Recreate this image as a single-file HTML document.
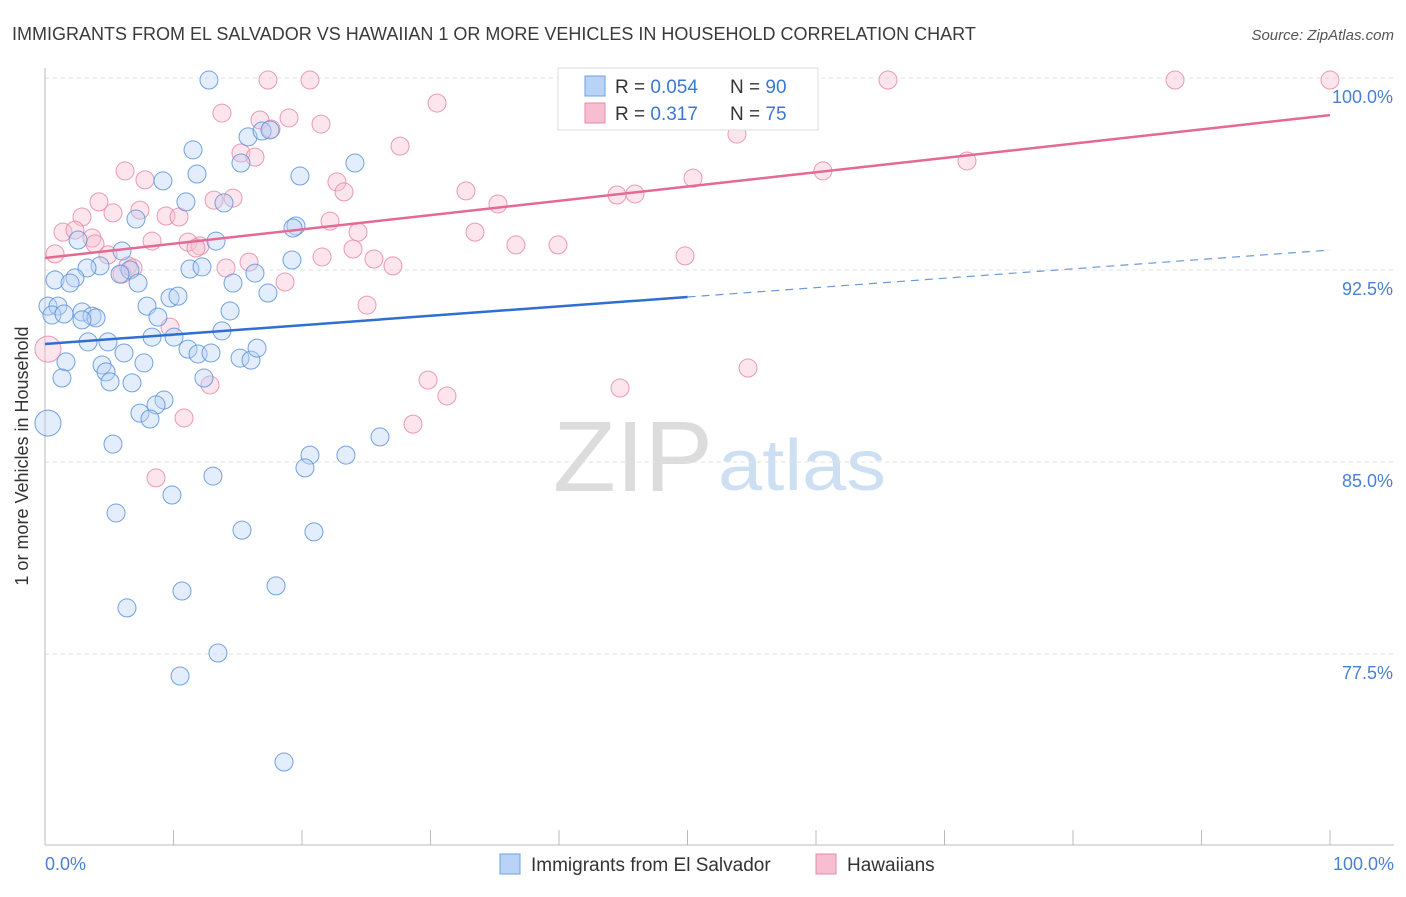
<!DOCTYPE html>
<html><head><meta charset="utf-8"><style>
body{margin:0;background:#fff;font-family:"Liberation Sans",sans-serif;}
svg text{font-family:"Liberation Sans",sans-serif;}
</style></head><body>
<svg width="1406" height="892" id="chart">
<text x="12" y="40" font-size="18" fill="#3a3a3a">IMMIGRANTS FROM EL SALVADOR VS HAWAIIAN 1 OR MORE VEHICLES IN HOUSEHOLD CORRELATION CHART</text>
<text x="1394" y="40" font-size="15" fill="#555" text-anchor="end" font-style="italic">Source: ZipAtlas.com</text>
<text x="553" y="491" font-size="100" fill="#dcdcdc" font-family="Liberation Serif" textLength="160" lengthAdjust="spacingAndGlyphs">ZIP</text>
<text x="718" y="490" font-size="72" fill="#cddff3" textLength="168" lengthAdjust="spacingAndGlyphs">atlas</text>
<g id="grid"></g>
<line x1="45" y1="68" x2="45" y2="845" stroke="#bbb"/>
<line x1="45" y1="845" x2="1394" y2="845" stroke="#bbb"/>
<text x="28" y="456" font-size="18" fill="#333" text-anchor="middle" transform="rotate(-90 28 456)">1 or more Vehicles in Household</text>
<text x="45" y="870" font-size="18" fill="#4a7fd4">0.0%</text>
<text x="1394" y="870" font-size="18" fill="#4a7fd4" text-anchor="end">100.0%</text>
<g id="marks"></g>
<g>
<rect x="558" y="68" width="260" height="62" fill="#fff" stroke="#ddd"/>
<rect x="585" y="76" width="20" height="20" fill="#b8d3f5" stroke="#6ea0e0"/>
<rect x="585" y="103" width="20" height="20" fill="#f7bdd0" stroke="#e88aa8"/>
<text x="615" y="93" font-size="19" fill="#333">R = <tspan fill="#3a78d8">0.054</tspan></text>
<text x="730" y="93" font-size="19" fill="#333">N = <tspan fill="#3a78d8">90</tspan></text>
<text x="615" y="120" font-size="19" fill="#333">R = <tspan fill="#3a78d8"> 0.317</tspan></text>
<text x="730" y="120" font-size="19" fill="#333">N = <tspan fill="#3a78d8">75</tspan></text>
</g>
<g>
<rect x="500" y="854" width="20" height="20" fill="#b8d3f5" stroke="#6ea0e0"/>
<text x="531" y="871" font-size="19" fill="#333">Immigrants from El Salvador</text>
<rect x="816" y="854" width="20" height="20" fill="#f7bdd0" stroke="#e88aa8"/>
<text x="847" y="871" font-size="19" fill="#333">Hawaiians</text>
</g>
</svg>
<script>
const yTicks=[100,92.5,85,77.5];
const yTickLabels=["100.0%","92.5%","85.0%","77.5%"];
const xTicks=[0,10,20,30,40,50,60,70,80,90,100];
const bluePx=[[209,80],[193,150],[197,174],[248,137],[262,131],[270,130],[241,163],[355,163],[163,181],[300,176],[186,202],[224,203],[136,219],[296,226],[293,228],[216,241],[78,240],[122,251],[100,266],[87,268],[190,269],[202,267],[255,273],[292,260],[130,270],[120,274],[75,278],[55,280],[70,283],[138,283],[233,283],[268,293],[48,306],[58,306],[52,315],[64,314],[82,312],[92,316],[96,318],[82,320],[147,306],[170,298],[178,296],[230,311],[158,317],[222,331],[88,342],[108,342],[152,337],[174,337],[188,349],[198,354],[211,353],[240,358],[251,360],[257,348],[124,353],[66,362],[102,365],[144,363],[106,372],[62,378],[110,382],[132,383],[204,378],[164,400],[156,405],[140,413],[150,419],[48,423],[113,444],[380,437],[310,455],[346,455],[305,468],[213,476],[172,495],[116,513],[242,530],[314,532],[182,591],[276,586],[127,608],[218,653],[180,676],[284,762]];
const pinkPx=[[268,80],[310,80],[664,80],[888,80],[1175,80],[1330,80],[437,103],[222,113],[260,120],[289,118],[321,124],[271,129],[400,146],[737,134],[241,153],[255,157],[125,171],[145,180],[337,182],[344,192],[693,178],[823,171],[967,161],[466,191],[617,195],[635,194],[99,202],[113,213],[140,210],[82,217],[166,216],[179,217],[214,200],[233,198],[498,204],[330,221],[63,232],[75,230],[92,238],[95,244],[152,241],[188,242],[200,246],[196,248],[358,232],[475,232],[516,245],[558,245],[353,249],[55,254],[108,255],[128,266],[122,274],[133,268],[249,262],[226,268],[322,257],[374,259],[393,266],[285,282],[685,256],[367,305],[170,327],[48,349],[210,385],[428,380],[447,396],[620,388],[748,368],[413,424],[184,418],[156,478]];
const blueX=bluePx.map(p=>+((p[0]-45)/12.85).toFixed(2));
const blueY=bluePx.map(p=>+(100-(p[1]-78)/25.6).toFixed(2));
const pinkX=pinkPx.map(p=>+((p[0]-45)/12.85).toFixed(2));
const pinkY=pinkPx.map(p=>+(100-(p[1]-78)/25.6).toFixed(2));
const blueTrend=[89.61,93.28];
const pinkTrend=[92.97,98.55];
const sx=v=>45+v*12.85, sy=v=>78+(100-v)*25.6;
const NS="http://www.w3.org/2000/svg";
const grid=document.getElementById('grid'), marks=document.getElementById('marks');
function mk(tag,attrs,parent){const e=document.createElementNS(NS,tag);for(const k in attrs)e.setAttribute(k,attrs[k]);parent.appendChild(e);return e;}
yTicks.forEach((t,i)=>{
 const l=mk('line',{x1:45,x2:1394,y1:sy(t),y2:sy(t),stroke:'#e2e2e2','stroke-dasharray':'4,4'},grid);
 
 
 const tx=mk('text',{x:1393,y:sy(t)+25,'font-size':18,fill:'#4a7fd4','text-anchor':'end'},grid);
 tx.textContent=yTickLabels[i];
 
 
});
xTicks.forEach(t=>{
 const l=mk('line',{x1:sx(t),x2:sx(t),y1:830,y2:845,stroke:'#bbb'},grid);
 
 
});
function pts(X,Y,fill,stroke,name){
 X.forEach((x,i)=>{
  const big=(x<0.5&&(Y[i]>89&&Y[i]<90.5||Y[i]>86&&Y[i]<87.5));
  const c=mk('circle',{cx:sx(x),cy:sy(Y[i]),r:big?13:9,fill:fill,'fill-opacity':0.4,stroke:stroke,'stroke-width':1,'stroke-opacity':0.85},marks);
  
  
 });
}
pts(pinkX,pinkY,'#f7bdd0','#e88aa8','hawaiian-point');
pts(blueX,blueY,'#b8d3f5','#5b93dd','el-salvador-point');
const bAt=x=>blueTrend[0]+(blueTrend[1]-blueTrend[0])*x/100;
const pAt=x=>pinkTrend[0]+(pinkTrend[1]-pinkTrend[0])*x/100;
let l=mk('line',{x1:sx(0),y1:sy(bAt(0)),x2:sx(50),y2:sy(bAt(50)),stroke:'#2f6fd0','stroke-width':2.5},marks);


l=mk('line',{x1:sx(50),y1:sy(bAt(50)),x2:sx(100),y2:sy(bAt(100)),stroke:'#6a9ad8','stroke-width':1.2,'stroke-dasharray':'8,6'},marks);


l=mk('line',{x1:sx(0),y1:sy(pAt(0)),x2:sx(100),y2:sy(pAt(100)),stroke:'#e36a95','stroke-width':2.5},marks);


</script>
</body></html>
